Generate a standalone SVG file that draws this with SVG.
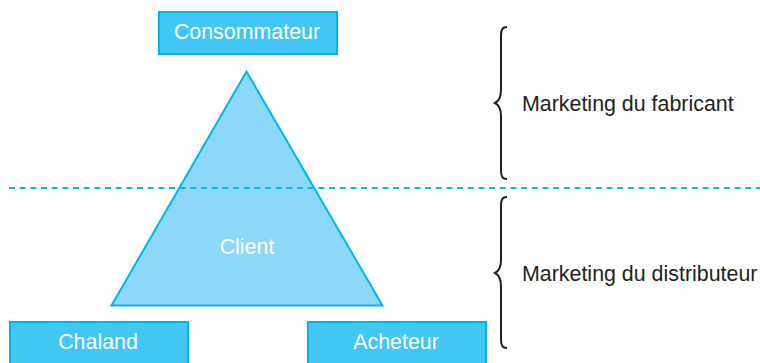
<svg xmlns="http://www.w3.org/2000/svg" width="760" height="363" viewBox="0 0 760 363">
<style>
text{font-family:"Liberation Sans",Arial,sans-serif;font-size:21.4px}
.box{fill:#41c6f6;stroke:#00b4f0;stroke-width:2}
.w{fill:#fff;text-anchor:middle}
.d{fill:#231f20}
.brace{fill:none;stroke:#231f20;stroke-width:2}
</style>
<rect width="760" height="363" fill="#fff"/>
<g id="triangle"><path d="M246.500 71.500L382.500 305.500H111.500Z" fill="#8dd8f8" stroke="#00b4f0" stroke-width="2"/><text class="w" x="247" y="253.500">Client</text></g>
<g id="consommateur"><rect class="box" x="159" y="12" width="178" height="42"/><text class="w" x="247" y="39">Consommateur</text></g>
<g id="chaland"><rect class="box" x="10" y="322" width="178" height="43"/><text class="w" x="98" y="349">Chaland</text></g>
<g id="acheteur"><rect class="box" x="308" y="322" width="178" height="43"/><text class="w" x="396" y="349">Acheteur</text></g>
<g id="connectors"><path d="M9 188H760" fill="none" stroke="#00b9f2" stroke-width="2" stroke-dasharray="6 4.670"/>
<path class="brace" d="M507 27C502 27 501 30 501 36V90C501 97 499 101 495 103C499 105 501 109 501 116V170C501 176 502 179 507 179"/>
<path class="brace" d="M507 197C502 197 501 200 501 206V260C501 267 499 271 495 273C499 275 501 279 501 286V339C501 345 502 348 507 348"/></g>
<g id="label-fabricant"><text class="d" x="522" y="110.500">Marketing du fabricant</text></g>
<g id="label-distributeur"><text class="d" x="522" y="280.500">Marketing du distributeur</text></g>
</svg>
